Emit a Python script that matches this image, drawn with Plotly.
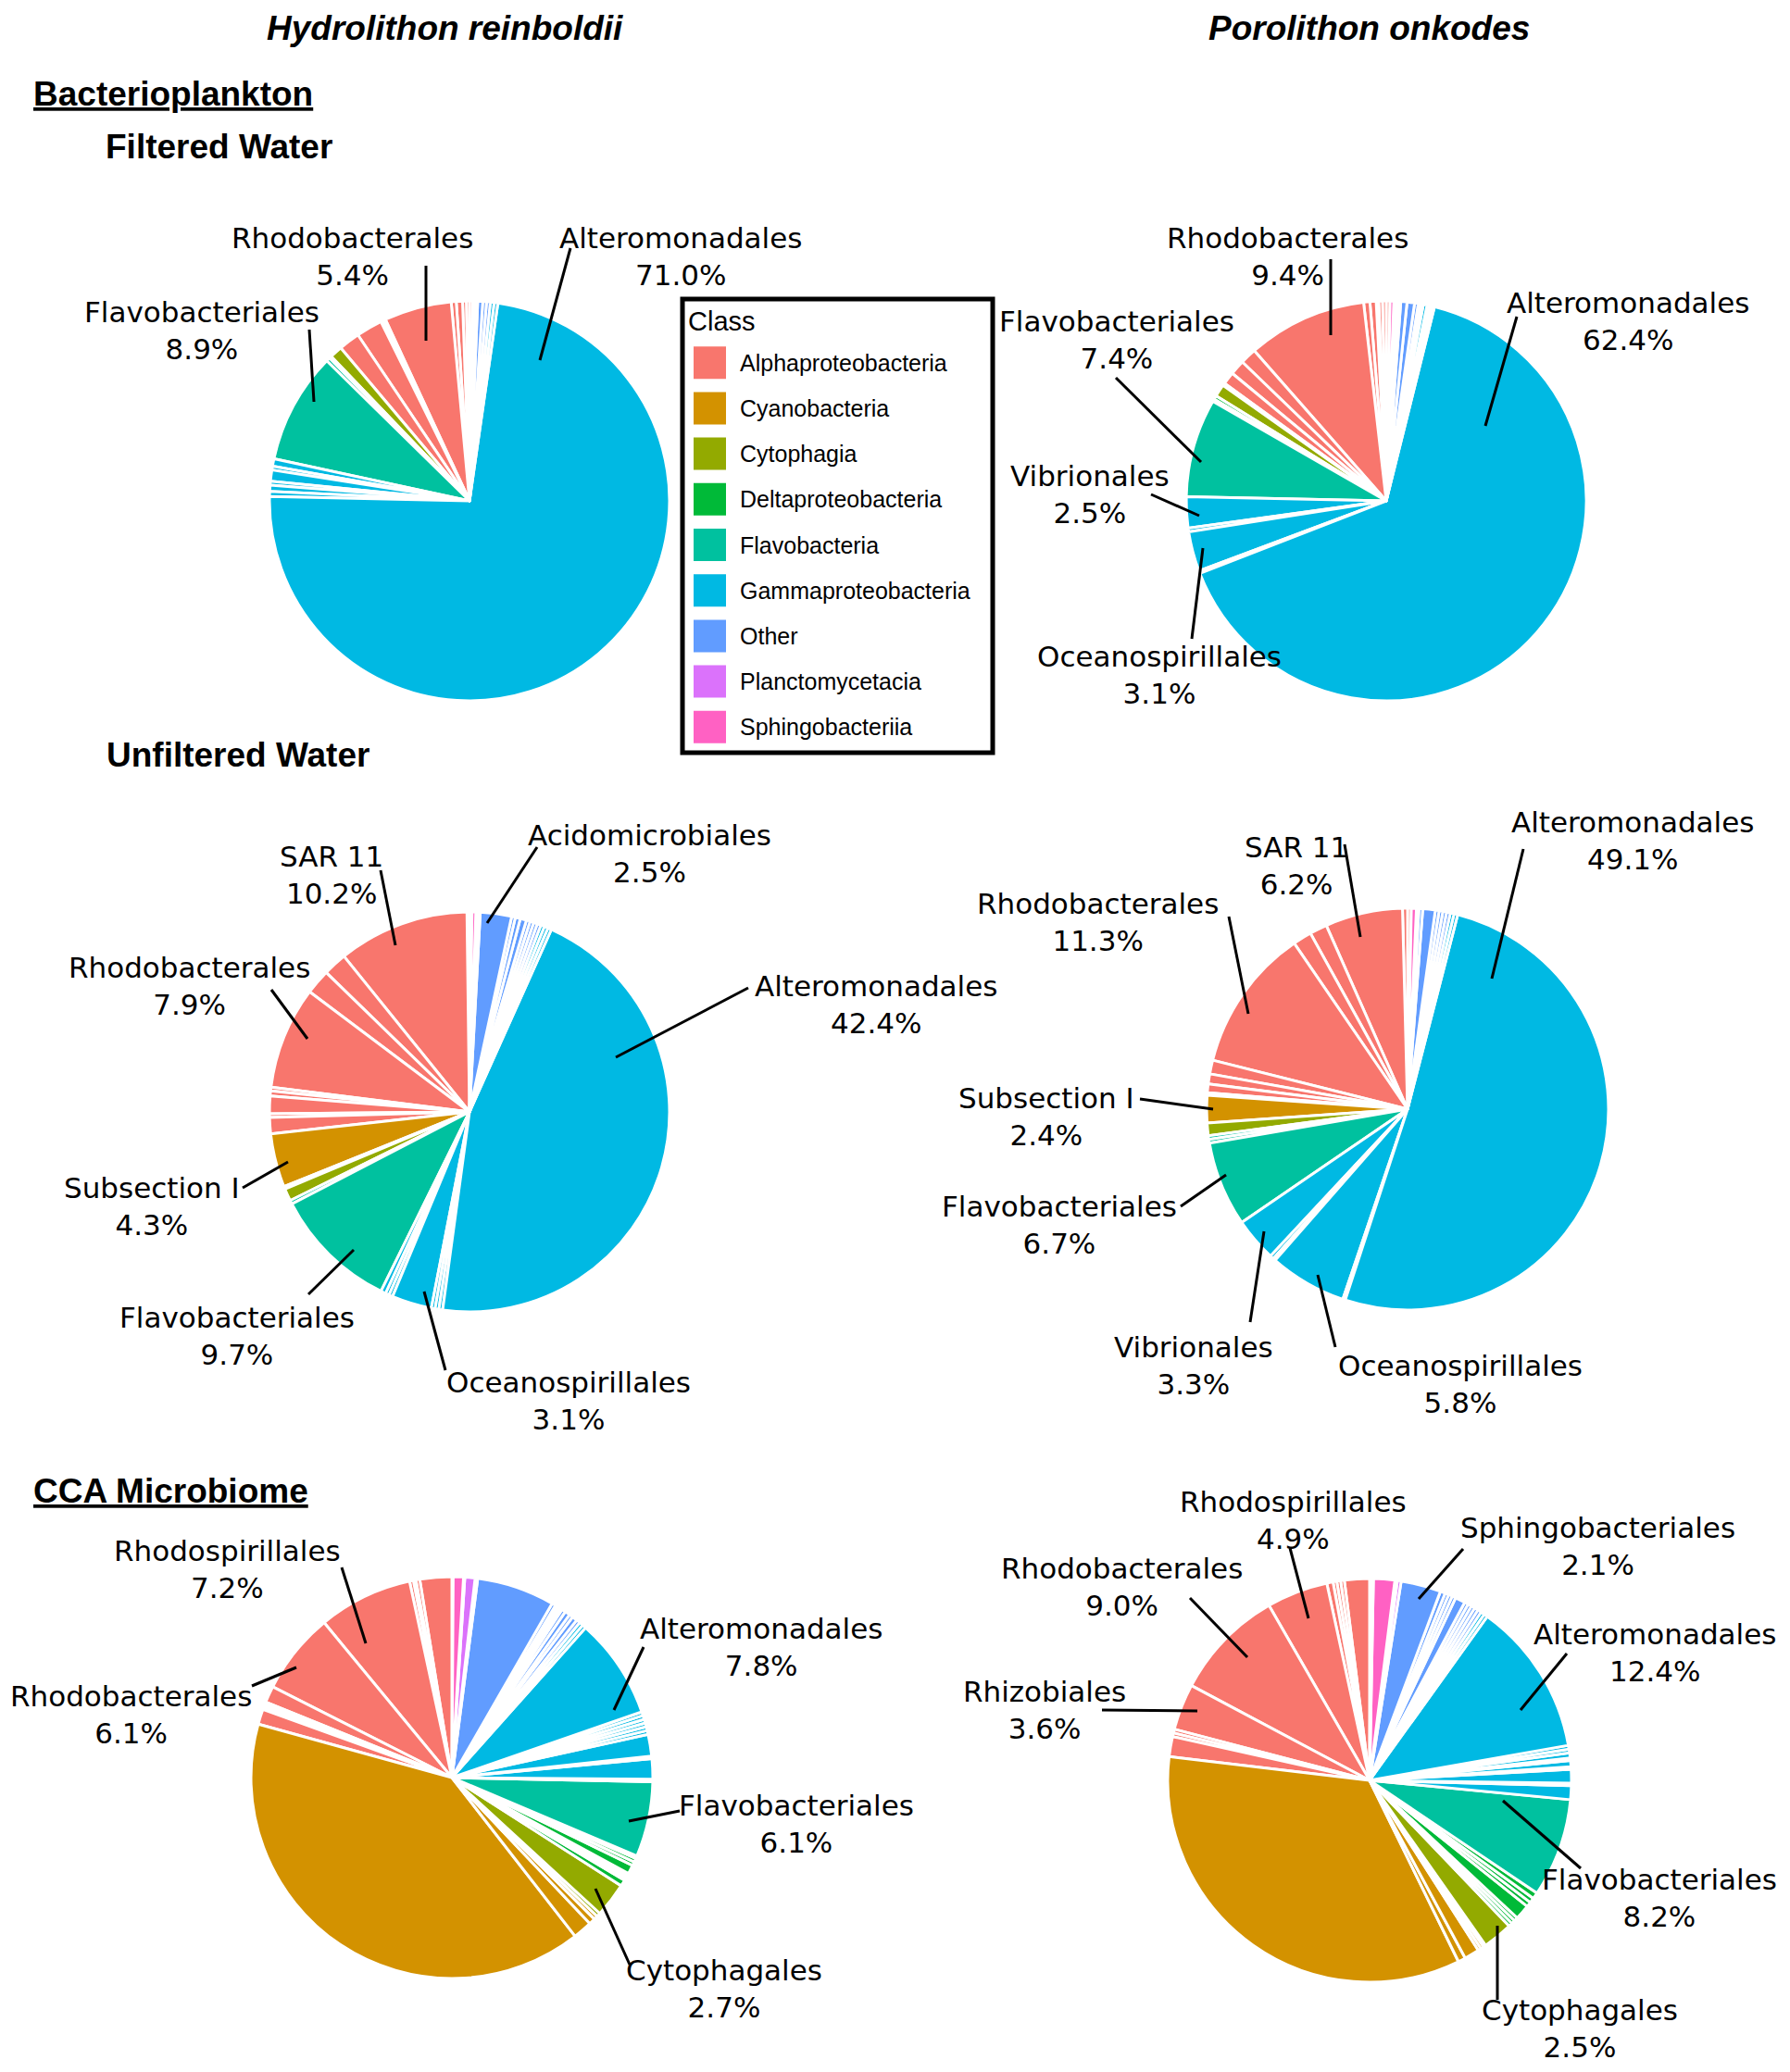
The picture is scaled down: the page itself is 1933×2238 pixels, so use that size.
import plotly.graph_objects as go

W, H = 1933, 2238
OFF = 8  # default page body margin of the html page

# ---------------- classes / colours ----------------
class_names = ["Alphaproteobacteria", "Cyanobacteria", "Cytophagia", "Deltaproteobacteria",
               "Flavobacteria", "Gammaproteobacteria", "Other", "Planctomycetacia", "Sphingobacteriia"]
class_colors = ["#F8766D", "#D39200", "#93AA00", "#00BA38", "#00C19F",
                "#00B9E3", "#619CFF", "#DB72FB", "#FF61C3"]
class_codes = ["A", "Cy", "Ct", "D", "F", "G", "O", "P", "S"]

# ---------------- data (order-level slices, % of reads, counter-clockwise from 12 o'clock) -----
# Hydrolithon reinboldii - filtered water
hr_filtered_class = ["A", "A", "A", "A", "A", "A", "A", "A", "A", "A",
                     "Ct", "Ct", "F", "F",
                     "G", "G", "G", "G", "G", "G", "G", "G", "G",
                     "O", "O", "O", "P", "S"]
hr_filtered_pct = [0.25, 0.25, 0.3, 0.5, 0.4, 5.4, 0.2, 0.2, 2.1, 1.7,
                   1.0, 0.2, 0.3, 8.9,
                   0.6, 0.3, 0.9, 0.3, 0.5, 0.4, 72.5, 0.3, 0.3,
                   0.3, 0.3, 0.4, 0.2, 0.2]

# Porolithon onkodes - filtered water
po_filtered_class = ["A", "A", "A", "A", "A", "A", "A", "A", "A", "A", "A",
                     "Ct", "D", "F", "F",
                     "G", "G", "G", "G", "G", "G", "G", "G", "G",
                     "O", "O", "O", "O", "O", "O", "O", "P", "S"]
po_filtered_pct = [0.3, 0.3, 0.3, 0.2, 0.5, 0.5, 9.6, 1.3, 1.2, 1.0, 0.2,
                   1.0, 0.3, 0.2, 7.9,
                   2.5, 0.3, 3.2, 0.2, 64.8, 0.2, 0.2, 0.2, 0.3,
                   0.2, 0.2, 0.3, 0.6, 0.5, 0.2, 0.2, 0.15, 0.3]

# Hydrolithon reinboldii - unfiltered water
hr_unfiltered_class = ["A", "A", "A", "A", "A", "A", "A", "A", "A", "A", "A",
                       "Cy", "Cy", "Ct", "F", "F",
                       "G", "G", "G", "G", "G", "G", "G", "G", "G", "G", "G",
                       "O", "O", "O", "O", "O", "O", "O", "O", "O", "P", "S"]
hr_unfiltered_pct = [0.2, 0.2, 10.5, 1.9, 2.0, 8.2, 0.3, 0.4, 1.4, 0.3, 1.3,
                     4.3, 0.2, 1.0, 0.3, 10.0,
                     0.4, 0.3, 0.3, 3.2, 0.3, 0.3, 0.3, 45.0, 0.3, 0.3, 0.3,
                     0.3, 0.3, 0.3, 0.3, 0.5, 0.4, 0.3, 2.5, 0.2, 0.15, 0.3]

# Porolithon onkodes - unfiltered water
po_unfiltered_class = ["A", "A", "A", "A", "A", "A", "A", "A", "A", "A",
                       "Cy", "Ct", "F", "F", "F",
                       "G", "G", "G", "G", "G", "G", "G", "G",
                       "O", "O", "O", "O", "O", "O", "P", "S"]
po_unfiltered_pct = [0.3, 0.4, 6.2, 1.4, 1.5, 11.5, 1.1, 0.8, 0.7, 0.2,
                     2.2, 1.0, 0.3, 0.3, 6.8,
                     3.5, 0.3, 0.2, 6.2, 0.2, 50.8, 0.3, 0.3,
                     0.3, 0.3, 0.3, 0.3, 1.0, 0.3, 0.2, 0.4]

# Hydrolithon reinboldii - CCA microbiome
hr_cca_class = ["A", "A", "A", "A", "A", "A", "A", "A", "A", "A", "A", "A",
                "Cy", "Cy", "Cy", "Cy",
                "Ct", "Ct",
                "D", "D", "D", "D", "D", "D", "D",
                "F", "F",
                "G", "G", "G", "G", "G", "G", "G", "G", "G", "G", "G", "G", "G",
                "O", "O", "O", "O", "O", "O", "O", "O", "O", "O", "O", "O",
                "P", "P", "S"]
hr_cca_pct = [0.1, 2.5, 0.3, 0.2, 0.3, 7.4, 6.4, 1.3, 0.2, 0.2, 0.2, 1.2,
              38.8, 1.5, 0.5, 0.3,
              0.3, 2.7,
              0.5, 0.2, 0.2, 0.2, 0.7, 0.3, 0.3,
              0.2, 5.9,
              0.2, 1.6, 0.2, 1.7, 0.3, 0.3, 0.3, 0.3, 0.3, 0.3, 7.9, 0.3, 0.3,
              0.3, 0.4, 0.3, 0.4, 0.3, 0.15, 0.15, 0.15, 0.15, 0.3, 6.1, 0.2,
              0.8, 0.1, 0.8]

# Porolithon onkodes - CCA microbiome
po_cca_class = ["A", "A", "A", "A", "A", "A", "A", "A", "A", "A", "A", "A",
                "Cy", "Cy", "Cy", "Cy", "Cy",
                "Ct", "Ct",
                "D", "D", "D", "D", "D", "D", "D",
                "F",
                "G", "G", "G", "G", "G", "G", "G", "G", "G", "G", "G", "G",
                "O", "O", "O", "O", "O", "O", "O", "O", "O", "O", "O",
                "P", "P", "S", "S"]
po_cca_pct = [0.1, 2.0, 0.3, 0.3, 0.3, 0.5, 4.9, 8.9, 3.7, 0.3, 0.3, 1.6,
              34.1, 0.6, 1.2, 0.25, 0.25,
              0.2, 2.4,
              0.3, 0.3, 0.3, 1.2, 0.4, 0.4, 0.5,
              7.9,
              1.1, 0.2, 1.1, 0.2, 0.5, 0.2, 0.4, 0.3, 0.3, 12.3, 0.3, 0.3,
              0.3, 0.3, 0.3, 0.3, 0.3, 0.8, 0.3, 0.3, 0.3, 0.4, 3.2,
              0.3, 0.2, 1.7, 0.2]

# ---------------- layout helpers ----------------
def px(x):
    return (x - OFF) / W


def py(y):
    return 1 - (y - OFF) / H


def domain(cx, cy, r):
    return dict(x=[px(cx - r), px(cx + r)], y=[py(cy + r), py(cy - r)])


code_to_name = dict(zip(class_codes, class_names))
name_to_color = dict(zip(class_names, class_colors))

pies = [
    ("H. reinboldii - filtered water", hr_filtered_class, hr_filtered_pct, (507, 541, 216)),
    ("P. onkodes - filtered water", po_filtered_class, po_filtered_pct, (1497, 541, 216)),
    ("H. reinboldii - unfiltered water", hr_unfiltered_class, hr_unfiltered_pct, (507, 1201, 216)),
    ("P. onkodes - unfiltered water", po_unfiltered_class, po_unfiltered_pct, (1520, 1198, 217)),
    ("H. reinboldii - CCA microbiome", hr_cca_class, hr_cca_pct, (488, 1920, 217)),
    ("P. onkodes - CCA microbiome", po_cca_class, po_cca_pct, (1479, 1923, 218)),
]

fig = go.Figure()
for name, cls, vals, (cx, cy, r) in pies:
    names = [code_to_name[c] for c in cls]
    labels = [f"{n} #{i + 1}" for i, n in enumerate(names)]
    fig.add_trace(go.Pie(
        name=name,
        labels=labels,
        values=vals,
        sort=False,
        direction="counterclockwise",
        rotation=0,
        marker=dict(colors=[name_to_color[n] for n in names],
                    line=dict(color="white", width=3)),
        textinfo="none",
        hovertemplate="%{label}<br>%{percent}<extra>" + name + "</extra>",
        domain=domain(cx, cy, r),
        showlegend=False,
    ))

annotations = []
shapes = []

LABEL_FONT = dict(family="DejaVu Sans, Liberation Sans, Arial", size=31, color="black")
HEAD_FONT = dict(family="Liberation Sans, Arial, Helvetica", size=37, color="black")

# headers (anchored to the top of the figure so that nothing is clipped)
annotations.append(dict(text="<b><i>Hydrolithon reinboldii</i></b>", x=px(480), y=1.0,
                        xanchor="center", yanchor="top", font=HEAD_FONT))
annotations.append(dict(text="<b><i>Porolithon onkodes</i></b>", x=px(1478), y=1.0,
                        xanchor="center", yanchor="top", font=HEAD_FONT))
for txt, x, y in [("<b><u>Bacterioplankton</u></b>", 34, 101),
                  ("<b>Filtered Water</b>", 112, 158),
                  ("<b>Unfiltered Water</b>", 113, 815),
                  ("<b><u>CCA Microbiome</u></b>", 34, 1610)]:
    annotations.append(dict(text=txt, x=px(x), y=py(y), xanchor="left", yanchor="middle",
                            font=HEAD_FONT))

# pie labels with leader lines
pie_labels = [
    # filtered water, H. reinboldii
    ("Rhodobacterales<br>5.4%", 380, 277, (460, 287, 460, 368)),
    ("Alteromonadales<br>71.0%", 735, 277, (616, 268, 583, 389)),
    ("Flavobacteriales<br>8.9%", 218, 357, (334, 356, 339, 434)),
    # filtered water, P. onkodes
    ("Rhodobacterales<br>9.4%", 1390, 277, (1437, 280, 1437, 362)),
    ("Alteromonadales<br>62.4%", 1758, 347, (1638, 342, 1604, 460)),
    ("Flavobacteriales<br>7.4%", 1206, 367, (1205, 408, 1297, 499)),
    ("Vibrionales<br>2.5%", 1177, 534, (1243, 534, 1295, 557)),
    ("Oceanospirillales<br>3.1%", 1252, 729, (1287, 690, 1299, 592)),
    # unfiltered water, H. reinboldii
    ("SAR 11<br>10.2%", 358, 945, (411, 940, 427, 1021)),
    ("Acidomicrobiales<br>2.5%", 701, 922, (580, 915, 526, 997)),
    ("Rhodobacterales<br>7.9%", 204, 1065, (293, 1069, 332, 1122)),
    ("Alteromonadales<br>42.4%", 946, 1085, (808, 1067, 665, 1142)),
    ("Subsection I<br>4.3%", 164, 1303, (262, 1283, 311, 1255)),
    ("Flavobacteriales<br>9.7%", 256, 1443, (333, 1398, 382, 1350)),
    ("Oceanospirillales<br>3.1%", 614, 1513, (481, 1480, 458, 1395)),
    # unfiltered water, P. onkodes
    ("SAR 11<br>6.2%", 1400, 935, (1452, 912, 1469, 1012)),
    ("Alteromonadales<br>49.1%", 1763, 908, (1645, 917, 1611, 1057)),
    ("Rhodobacterales<br>11.3%", 1185, 996, (1327, 990, 1348, 1095)),
    ("Subsection I<br>2.4%", 1130, 1206, (1231, 1187, 1310, 1198)),
    ("Flavobacteriales<br>6.7%", 1144, 1323, (1275, 1303, 1324, 1269)),
    ("Vibrionales<br>3.3%", 1289, 1475, (1350, 1428, 1365, 1330)),
    ("Oceanospirillales<br>5.8%", 1577, 1495, (1442, 1455, 1423, 1377)),
    # CCA, H. reinboldii
    ("Rhodospirillales<br>7.2%", 245, 1695, (369, 1693, 395, 1775)),
    ("Rhodobacterales<br>6.1%", 141, 1852, (272, 1821, 320, 1801)),
    ("Alteromonadales<br>7.8%", 822, 1779, (695, 1779, 663, 1847)),
    ("Flavobacteriales<br>6.1%", 860, 1970, (734, 1956, 679, 1967)),
    ("Cytophagales<br>2.7%", 782, 2148, (680, 2122, 643, 2040)),
    # CCA, P. onkodes
    ("Rhodospirillales<br>4.9%", 1396, 1642, (1393, 1672, 1413, 1748)),
    ("Sphingobacteriales<br>2.1%", 1725, 1670, (1580, 1673, 1532, 1727)),
    ("Rhodobacterales<br>9.0%", 1211, 1714, (1285, 1726, 1347, 1790)),
    ("Alteromonadales<br>12.4%", 1787, 1785, (1692, 1786, 1642, 1847)),
    ("Rhizobiales<br>3.6%", 1128, 1847, (1190, 1847, 1293, 1848)),
    ("Flavobacteriales<br>8.2%", 1792, 2050, (1707, 2018, 1623, 1945)),
    ("Cytophagales<br>2.5%", 1706, 2191, (1617, 2160, 1617, 2080)),
]
for txt, x, y, (x0, y0, x1, y1) in pie_labels:
    annotations.append(dict(text=txt, x=px(x), y=py(y), xanchor="center", yanchor="middle",
                            align="center", font=LABEL_FONT))
    shapes.append(dict(type="line", xref="paper", yref="paper",
                       x0=px(x0), y0=py(y0), x1=px(x1), y1=py(y1),
                       line=dict(color="black", width=3)))

# legend box (drawn manually)
LEG_FONT = dict(family="Liberation Sans, Arial, Helvetica", size=25, color="black")
shapes.append(dict(type="rect", xref="paper", yref="paper",
                   x0=px(737), y0=py(813), x1=px(1072), y1=py(323),
                   line=dict(color="black", width=5), fillcolor="white", layer="below"))
annotations.append(dict(text="Class", x=px(741), y=py(347), xanchor="left", yanchor="middle",
                        font=dict(family="Liberation Sans, Arial", size=29, color="black")))
for i, (n, c) in enumerate(zip(class_names, class_colors)):
    yc = 391.7 + 49.2 * i
    shapes.append(dict(type="rect", xref="paper", yref="paper",
                       x0=px(749), x1=px(784), y0=py(yc + 17.5), y1=py(yc - 17.5),
                       line=dict(width=0), fillcolor=c))
    annotations.append(dict(text=n, x=px(797), y=py(yc), xanchor="left", yanchor="middle",
                            font=LEG_FONT))

for a in annotations:
    a.update(xref="paper", yref="paper", showarrow=False)

fig.update_layout(
    width=W, height=H,
    margin=dict(l=0, r=0, t=0, b=0),
    paper_bgcolor="white", plot_bgcolor="white",
    annotations=annotations, shapes=shapes,
    showlegend=False,
)

fig.write_html("out.html")
